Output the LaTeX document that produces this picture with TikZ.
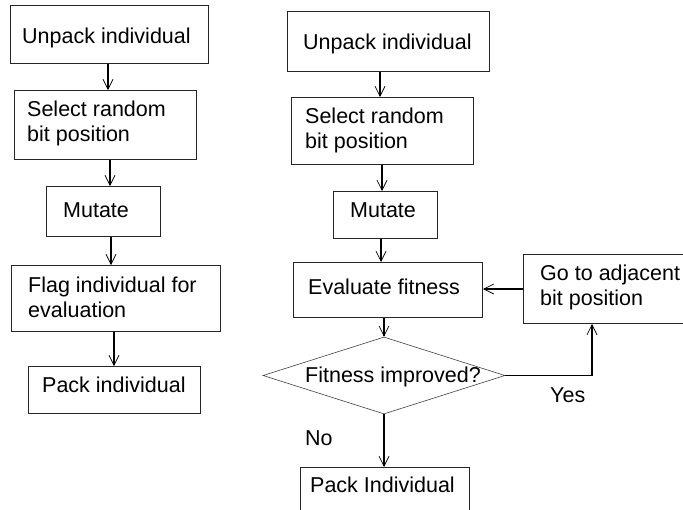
\documentclass[tikz,border=0pt]{standalone}
\usepackage{fontspec}
\setmainfont{Liberation Sans}
\usetikzlibrary{arrows.meta,shapes.geometric}
\begin{document}
\begin{tikzpicture}[x=1pt,y=-1pt,
  box/.style={draw=black!85, line width=1pt, inner sep=0pt, anchor=north west},
  dia/.style={draw=black!75, line width=0.6pt, shape=diamond, inner sep=0pt, shape aspect=3},
  txt/.style={inner sep=0pt, anchor=base west, font=\fontsize{21.5}{25}\selectfont},
  arr/.style={line width=1.8pt, -{Straight Barb[length=10pt,width=10pt,line width=0.7pt]}}
]
\clip (0,0) rectangle (683,509);
% left column boxes
\node[box, minimum width=198pt, minimum height=58pt] (a1) at (10,5) {};
\node[box, minimum width=182pt, minimum height=69pt] (a2) at (14,90) {};
\node[box, minimum width=114pt, minimum height=50pt] (a3) at (46,186) {};
\node[box, minimum width=209pt, minimum height=66pt] (a4) at (11,265) {};
\node[box, minimum width=172pt, minimum height=47pt] (a5) at (28,366) {};
% left texts
\node[txt] (a1t) at (22,43) {Unpack individual};
\node[txt] (a2t) at (27,116) {Select random};
\node[txt] (a2u) at (27,141) {bit position};
\node[txt] (a3t) at (63,217) {Mutate};
\node[txt] (a4t) at (28,292) {Flag individual for};
\node[txt] (a4u) at (28,317) {evaluation};
\node[txt] (a5t) at (42,392) {Pack individual};
% right column boxes
\node[box, minimum width=202pt, minimum height=60pt] (b1) at (287,11) {};
\node[box, minimum width=182pt, minimum height=67pt] (b2) at (291,97) {};
\node[box, minimum width=104pt, minimum height=47pt] (b3) at (333,191) {};
\node[box, minimum width=189pt, minimum height=55pt] (b4) at (293,262) {};
\node[dia, minimum width=242pt, minimum height=77pt] (d) at (384,375.5) {};
\node[box, minimum width=177pt, minimum height=69pt] (g) at (523,254) {};
\node[box, minimum width=169pt, minimum height=63pt] (b5) at (300,467) {};
% right texts
\node[txt] (b1t) at (303,49) {Unpack individual};
\node[txt] (b2t) at (305,123) {Select random};
\node[txt] (b2u) at (305,148) {bit position};
\node[txt] (b3t) at (350,217) {Mutate};
\node[txt] (b4t) at (308,294) {Evaluate fitness};
\node[txt] (dt) at (305,382) {Fitness improved?};
\node[txt] (gt) at (540,280) {Go to adjacent};
\node[txt] (gu) at (540,305) {bit position};
\node[txt] (b5t) at (310,492) {Pack Individual};
\node[txt] (yes) at (550,402) {Yes};
\node[txt] (no) at (305,445) {No};
% connector x positions
\coordinate (xa1) at (108,0);
\coordinate (xa2) at (110,0);
\coordinate (xa3) at (111,0);
\coordinate (xa4) at (114,0);
\coordinate (xb1) at (380,0);
\coordinate (xb2) at (382,0);
\coordinate (xb3) at (381,0);
\coordinate (xy) at (592,0);
% left connectors
\draw[arr] (a1.south -| xa1) -- (a2.north -| xa1);
\draw[arr] (a2.south -| xa2) -- (a3.north -| xa2);
\draw[arr] (a3.south -| xa3) -- (a4.north -| xa3);
\draw[arr] (a4.south -| xa4) -- (a5.north -| xa4);
% right connectors
\draw[arr] (b1.south -| xb1) -- (b2.north -| xb1);
\draw[arr] (b2.south -| xb2) -- (b3.north -| xb2);
\draw[arr] (b3.south -| xb3) -- (b4.north -| xb3);
\draw[arr] (b4.south -| d.north) -- (d.north);
\draw[arr] (d.south) -- (b5.north -| d.south);
\draw[arr] (d.east) -| (g.south -| xy);
\draw[arr] (g.west) -- (b4.east |- g.west);
\end{tikzpicture}
\end{document}
